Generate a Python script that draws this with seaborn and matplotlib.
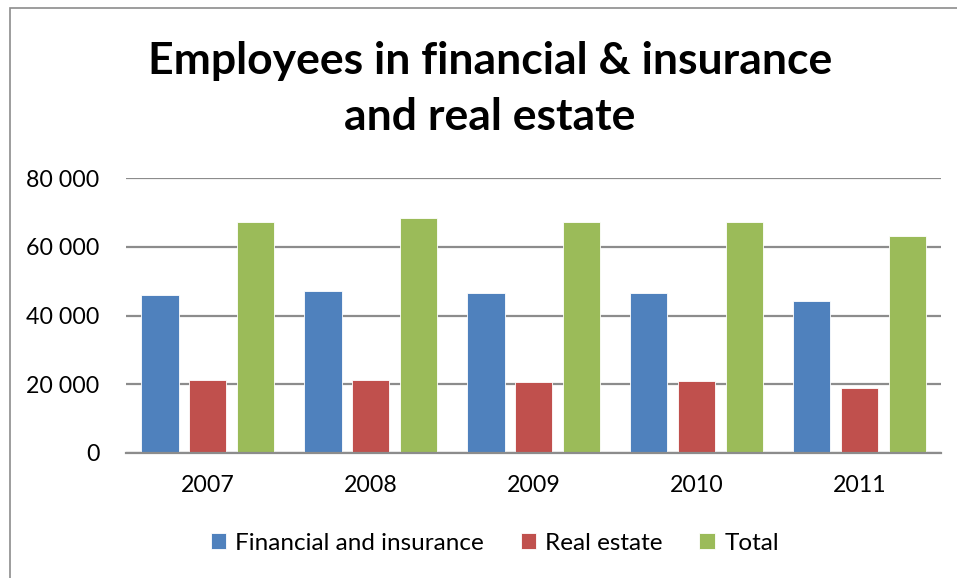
import numpy as np
import pandas as pd
import matplotlib
matplotlib.use("Agg")
import matplotlib.pyplot as plt
from matplotlib.ticker import FuncFormatter, MultipleLocator
from matplotlib.patches import Rectangle
import seaborn as sns

years = ["2007", "2008", "2009", "2010", "2011"]
financial = [46000, 47100, 46600, 46700, 44200]
real_estate = [21300, 21100, 20600, 20800, 18900]
total = [67300, 68300, 67200, 67400, 63200]
series_names = ["Financial and insurance", "Real estate", "Total"]
colors = ["#4F81BD", "#C0504D", "#9BBB59"]
title = "Employees in financial & insurance\nand real estate"

sns.set_theme(style="white")
plt.rcParams["font.family"] = ["Lato", "DejaVu Sans"]

df = pd.DataFrame({
    "year": years * 3,
    "value": financial + real_estate + total,
    "series": [series_names[0]] * 5 + [series_names[1]] * 5 + [series_names[2]] * 5,
})

fig = plt.figure(figsize=(9.57, 5.78), dpi=100)
ax = fig.add_axes([0.1317, 0.2168, 0.8516, 0.4747])

sns.barplot(data=df, x="year", y="value", hue="series", palette=colors,
            width=0.883, gap=0.21, ax=ax, legend=True, saturation=1,
            edgecolor="white", linewidth=0.6)

ax.set_ylim(0, 80000)
ax.set_xlim(-0.5, 4.5)
ax.yaxis.set_major_locator(MultipleLocator(20000))
ax.yaxis.set_major_formatter(FuncFormatter(lambda v, p: f"{int(v):,}".replace(",", " ")))
ax.grid(axis="y", color="#8C8C8C", linewidth=1.6)
ax.set_axisbelow(True)
for s in ["top", "right", "left"]:
    ax.spines[s].set_visible(False)
ax.spines["bottom"].set_color("#8C8C8C")
ax.spines["bottom"].set_linewidth(1.6)
ax.tick_params(axis="y", length=0, pad=19, labelsize=16.7, labelcolor="black")
ax.tick_params(axis="x", length=0, pad=16, labelsize=16.7, labelcolor="black")
ax.set_xlabel("")
ax.set_ylabel("")

handles, labels = ax.get_legend_handles_labels()
ax.get_legend().remove()
leg = fig.legend(handles, labels, loc="center", bbox_to_anchor=(0.517, 0.06), ncol=3,
                 frameon=False, fontsize=17.5, handlelength=0.62, handleheight=0.62,
                 handletextpad=0.4, columnspacing=1.5)
for t in leg.get_texts():
    t.set_color("black")

fig.text(0.512, 0.846, title, ha="center", va="center", fontsize=32,
         fontweight="bold", linespacing=1.5, color="black")

fig.patches.append(Rectangle((10 / 957, -0.1), 1.2, 1 - 8 / 578 + 0.1,
                             transform=fig.transFigure, fill=False,
                             edgecolor="#8C8C8C", linewidth=1.2))

fig.savefig("out.png", dpi=100)
